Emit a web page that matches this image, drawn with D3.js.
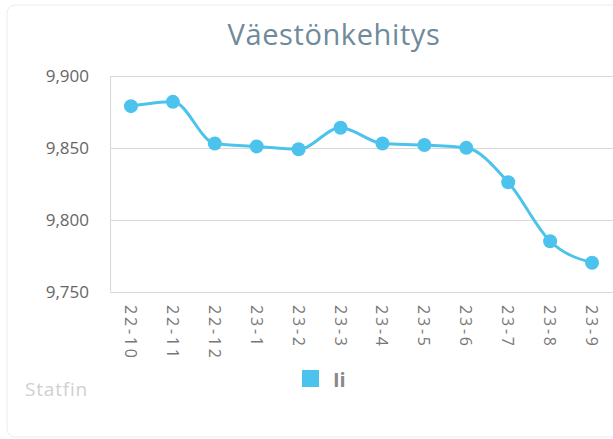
<!DOCTYPE html>
<html>
<head>
<meta charset="utf-8">
<script src="https://cdn.jsdelivr.net/npm/d3@7"></script>
<style>
  body { margin: 0; background: #fff; overflow: hidden; }
  text { font-family: "Open Sans", sans-serif; }
</style>
</head>
<body>
<div id="chart"></div>
<script>
const width = 613, height = 439;
const margin = {top: 76, right: 0, bottom: 148, left: 110};

// data
const months = ["22-10", "22-11", "22-12", "23-1", "23-2", "23-3", "23-4", "23-5", "23-6", "23-7", "23-8", "23-9"];
const values = [9879, 9882, 9853, 9851, 9849, 9864, 9853, 9852, 9850, 9826, 9785, 9770];
const yTicks = [9750, 9800, 9850, 9900];
const seriesName = "Ii";

const svg = d3.select("#chart").append("svg")
  .attr("width", width)
  .attr("height", height);

// card
svg.append("rect")
  .attr("x", 7).attr("y", 5)
  .attr("width", 640).attr("height", 432)
  .attr("rx", 8)
  .attr("fill", "#fff")
  .attr("stroke", "#ececec");

svg.append("text")
  .attr("x", 334).attr("y", 45)
  .attr("text-anchor", "middle")
  .style("font-size", "29px")
  .style("letter-spacing", "0.6px")
  .style("fill", "#6f8a9b")
  .text("Väestönkehitys");

let x = d3.scaleBand()
  .domain(months)
  .range([margin.left, width - margin.right]);

let y = d3.scaleLinear()
  .domain([9750, 9900])
  .range([height - margin.bottom + 0.5, margin.top]);

// grid
svg.append("g")
  .selectAll("line").data(yTicks).enter()
  .append("line")
  .attr("x1", margin.left).attr("x2", width)
  .attr("y1", d => Math.round(y(d)) + 0.5)
  .attr("y2", d => Math.round(y(d)) + 0.5)
  .attr("stroke", "#d9d9d9")
  .attr("stroke-width", 1.2);

svg.append("line")
  .attr("x1", margin.left + 0.5).attr("x2", margin.left + 0.5)
  .attr("y1", y(9900)).attr("y2", y(9750))
  .attr("stroke", "#d9d9d9")
  .attr("stroke-width", 1.2);

// y axis labels
svg.append("g")
  .selectAll("text").data(yTicks).enter()
  .append("text")
  .attr("x", 89)
  .attr("y", d => y(d) + 6)
  .attr("text-anchor", "end")
  .style("font-size", "17px")
  .style("fill", "#666")
  .text(d => d3.format(",")(d));

// x axis labels, rotated
svg.append("g")
  .selectAll("text").data(months).enter()
  .append("text")
  .attr("transform", d => `translate(${x(d) + x.bandwidth() / 2 - 6}, 305) rotate(90)`)
  .style("font-size", "16px")
  .style("letter-spacing", "2.8px")
  .style("fill", "#777")
  .text(d => d);

// line
let line = d3.line()
  .x((d, i) => x(months[i]) + x.bandwidth() / 2)
  .y(d => y(d))
  .curve(d3.curveMonotoneX);

svg.append("path")
  .datum(values)
  .attr("d", line)
  .attr("fill", "none")
  .attr("stroke", "#4cc3ec")
  .attr("stroke-width", 3);

svg.selectAll("circle.dot").data(values).enter()
  .append("circle")
  .attr("class", "dot")
  .attr("cx", (d, i) => x(months[i]) + x.bandwidth() / 2)
  .attr("cy", d => y(d))
  .attr("r", 7)
  .attr("fill", "#4cc3ec");

// legend
svg.append("rect")
  .attr("x", 302).attr("y", 370)
  .attr("width", 17).attr("height", 17)
  .attr("fill", "#4cc3ec");

svg.append("text")
  .attr("x", 333).attr("y", 387)
  .style("font-size", "20px")
  .style("font-weight", "bold")
  .style("fill", "#888")
  .text(seriesName);

// credit
svg.append("text")
  .attr("x", 25).attr("y", 396)
  .style("font-size", "19px")
  .style("letter-spacing", "0.8px")
  .style("fill", "#d0d0d0")
  .text("Statfin");
</script>
</body>
</html>
